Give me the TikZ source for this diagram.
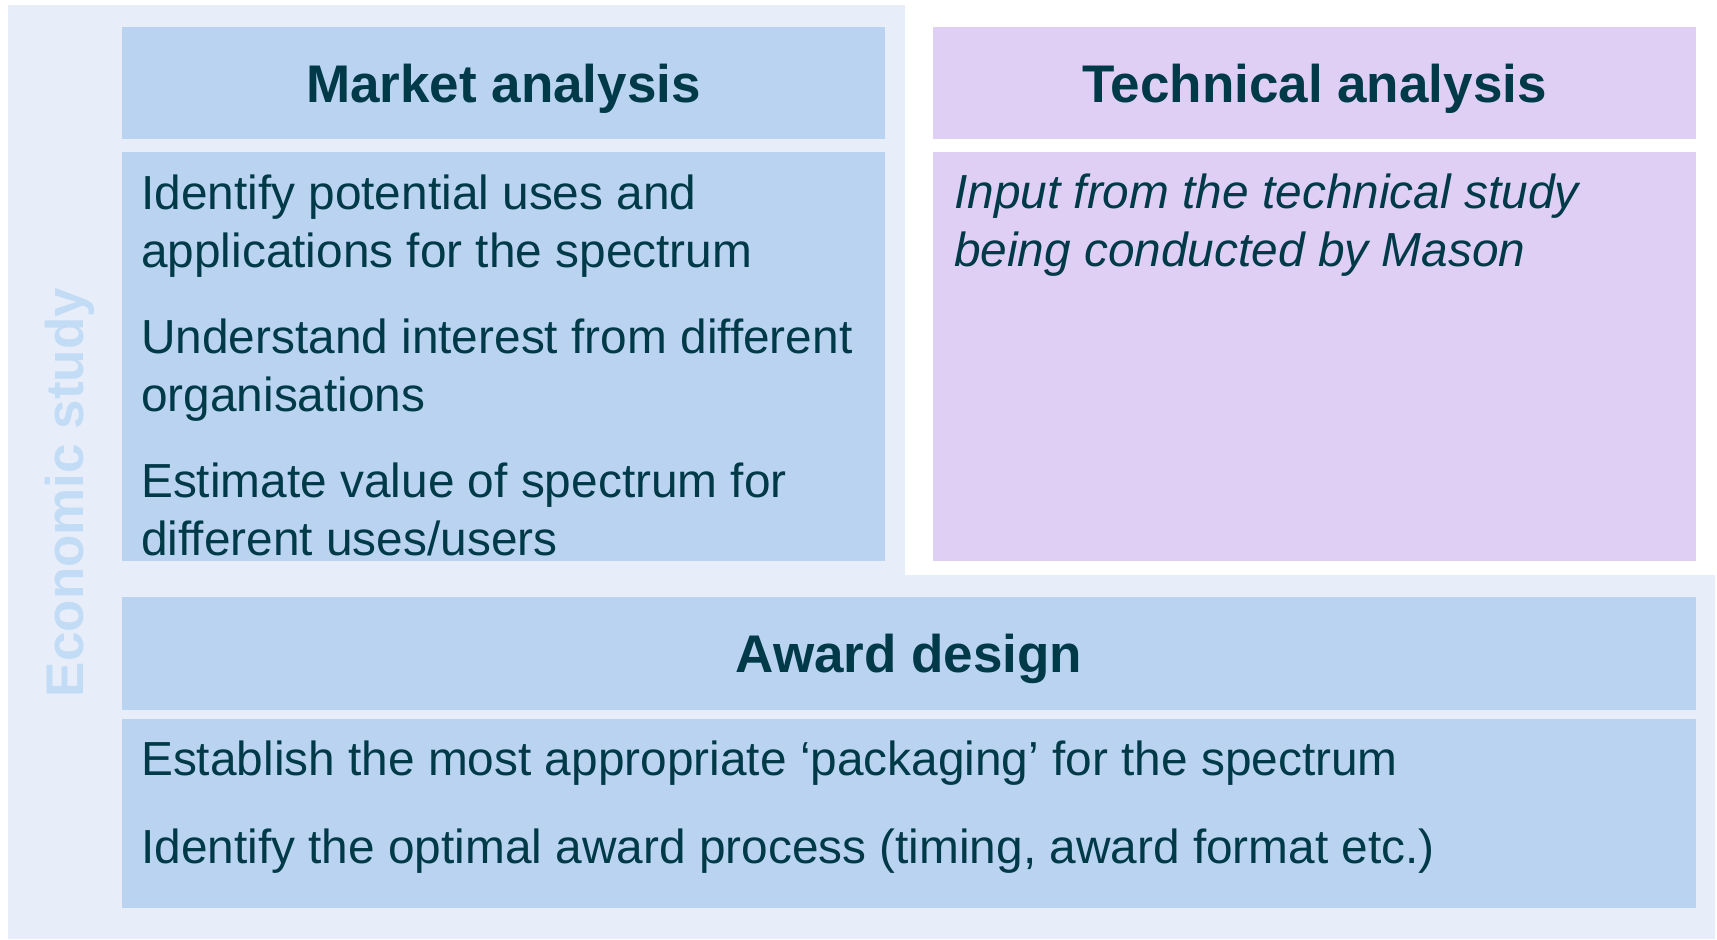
\documentclass[tikz,border=0pt]{standalone}
\usepackage{fontspec}
\setmainfont{Liberation Sans}
\definecolor{bgL}{HTML}{E8EEF9}
\definecolor{blueF}{HTML}{BAD3F1}
\definecolor{purpF}{HTML}{DFCFF5}
\definecolor{txtC}{HTML}{003A48}
\definecolor{econC}{HTML}{C3DCF6}
\begin{document}
\begin{tikzpicture}[x=1pt,y=-1pt,
  panel/.style={draw=none, anchor=north west, inner sep=0pt, outer sep=0pt},
  headtxt/.style={anchor=base, inner sep=0pt, text=txtC, font={\fontsize{53}{60}\selectfont\bfseries}},
  bodytxt/.style={anchor=base west, inner sep=0pt, text=txtC, font={\fontsize{47.8}{58}\selectfont}},
  econtxt/.style={anchor=base, rotate=90, inner sep=0pt, text=econC, font={\fontsize{53}{60}\selectfont\bfseries}}]
\useasboundingbox (0,0) rectangle (1717,940);
% light L-shaped background
\fill[bgL] (8,5) -- (905,5) -- (905,575) -- (1715,575) -- (1715,939) -- (8,939) -- cycle;
% panels
\node[panel, fill=blueF, minimum width=763pt, minimum height=112pt] (mh) at (122,27) {};
\node[panel, fill=blueF, minimum width=763pt, minimum height=409pt] (mb) at (122,152) {};
\node[panel, fill=purpF, minimum width=763pt, minimum height=112pt] (th) at (933,27) {};
\node[panel, fill=purpF, minimum width=763pt, minimum height=409pt] (tb) at (933,152) {};
\node[panel, fill=blueF, minimum width=1574pt, minimum height=113pt] (ah) at (122,597) {};
\node[panel, fill=blueF, minimum width=1574pt, minimum height=189pt] (ab) at (122,719) {};
% headers
\node[headtxt] (mht) at (503.5,102) {Market analysis};
\node[headtxt] (tht) at (1314.5,102) {Technical analysis};
\node[headtxt] (aht) at (909,672.5) {Award design};
% market items
\node[bodytxt] (m1) at (141,209) {\parbox[t]{740pt}{\raggedright Identify potential uses and\\applications for the spectrum}};
\node[bodytxt] (m2) at (141,353) {\parbox[t]{740pt}{\raggedright Understand interest from different\\organisations}};
\node[bodytxt] (m3) at (141,497) {\parbox[t]{740pt}{\raggedright Estimate value of spectrum for\\different uses/users}};
% technical
\node[bodytxt] (t1) at (954,208) {\parbox[t]{740pt}{\raggedright\itshape Input from the technical study\\being conducted by Mason}};
% award items
\node[bodytxt] (a1) at (141,775) {Establish the most appropriate ‘packaging’ for the spectrum};
\node[bodytxt] (a2) at (141,863) {Identify the optimal award process (timing, award format etc.)};
% side label
\node[econtxt] (econ) at (83,492.5) {Economic study};
\end{tikzpicture}
\end{document}
